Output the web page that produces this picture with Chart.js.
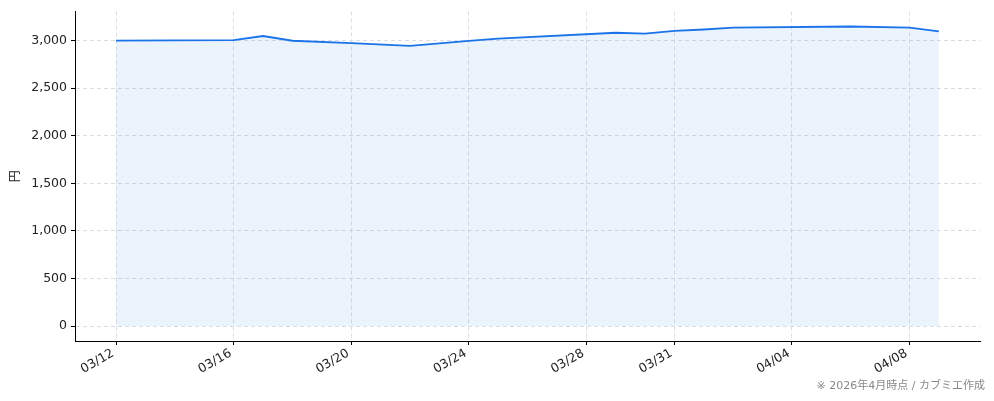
<!DOCTYPE html>
<html><head><meta charset="utf-8">
<script src="https://cdn.jsdelivr.net/npm/chart.js@4.4.1/dist/chart.umd.min.js"></script>
<style>
html,body{margin:0;padding:0;background:#fff;}
#wrap{position:relative;width:994px;height:401px;}
#note{position:absolute;right:9px;top:376px;font-family:"DejaVu Sans","Noto Sans CJK JP",sans-serif;font-size:11px;color:#888;white-space:nowrap;}
</style></head>
<body>
<div id="wrap"><canvas id="c"></canvas><div id="note">※ 2026年4月時点 / カブミエ作成</div></div>
<script>
const year = 2026;
const dates = ["03/12","03/16","03/17","03/18","03/20","03/22","03/24","03/25","03/29","03/30","03/31","04/01","04/02","04/06","04/08","04/09"];
const prices = [3000,3005,3048,2998,2973,2944,2996,3021,3082,3072,3102,3116,3135,3148,3137,3097];
const xTickLabels = ["03/12","03/16","03/20","03/24","03/28","03/31","04/04","04/08"];
const yTicks = [0,500,1000,1500,2000,2500,3000];

function dayOffset(s){
  const [m,d] = s.split("/").map(Number);
  return (Date.UTC(year,m-1,d) - Date.UTC(year,2,12)) / 86400000;
}
const pts = dates.map((d,i)=>({x:dayOffset(d), y:prices[i]}));
const xTickVals = xTickLabels.map(dayOffset);
const xSpan = dayOffset(dates[dates.length-1]) - dayOffset(dates[0]);
const yMax = Math.max(...prices);

Chart.defaults.font.family = '"DejaVu Sans", "Noto Sans CJK JP", sans-serif';
Chart.defaults.font.size = 12.5;
Chart.defaults.color = '#222';

const gridColor = '#dcdde4';
new Chart(document.getElementById('c'), {
  type: 'line',
  data: { datasets: [{
    data: pts,
    borderColor: '#1a73e8',
    borderWidth: 1.8,
    backgroundColor: 'rgba(26,115,232,0.085)',
    fill: 'origin',
    tension: 0,
    pointRadius: 0
  }]},
  options: {
    responsive: true,
    maintainAspectRatio: false,
    animation: false,
    layout: { padding: { top: 10, right: 14, left: 0, bottom: 0 } },
    plugins: { legend: { display: false }, tooltip: { enabled: false } },
    scales: {
      x: {
        type: 'linear',
        min: dayOffset(dates[0]) - xSpan*0.05,
        max: dayOffset(dates[dates.length-1]) + xSpan*0.05,
        afterBuildTicks: s => { s.ticks = xTickVals.map(v=>({value:v})); },
        afterFit: s => { s.height = 60; },
        ticks: {
          autoSkip: false, minRotation: 30, maxRotation: 30, padding: 1, labelOffset: -3,
          callback: (v,i) => xTickLabels[i]
        },
        grid: { color: gridColor, tickColor: '#000', tickLength: 4, tickBorderDash: [], tickWidth: 1, lineWidth: 1 },
        border: { display: true, color: '#000', width: 1, dash: [4,3] }
      },
      y: {
        min: -yMax*0.05,
        max: yMax*1.05,
        afterBuildTicks: s => { s.ticks = yTicks.map(v=>({value:v})); },
        afterFit: s => { s.width = 75; },
        ticks: { padding: 4, callback: v => v.toLocaleString('en-US') },
        grid: { color: gridColor, tickColor: '#000', tickLength: 4, tickBorderDash: [], tickWidth: 1, lineWidth: 1 },
        border: { display: true, color: '#000', width: 1, dash: [4,3] },
        title: { display: true, text: '円', padding: { top: 7, bottom: 0 }, font: { size: 12, family: '"Noto Sans CJK JP", sans-serif' } }
      }
    }
  }
});
</script>
</body></html>
